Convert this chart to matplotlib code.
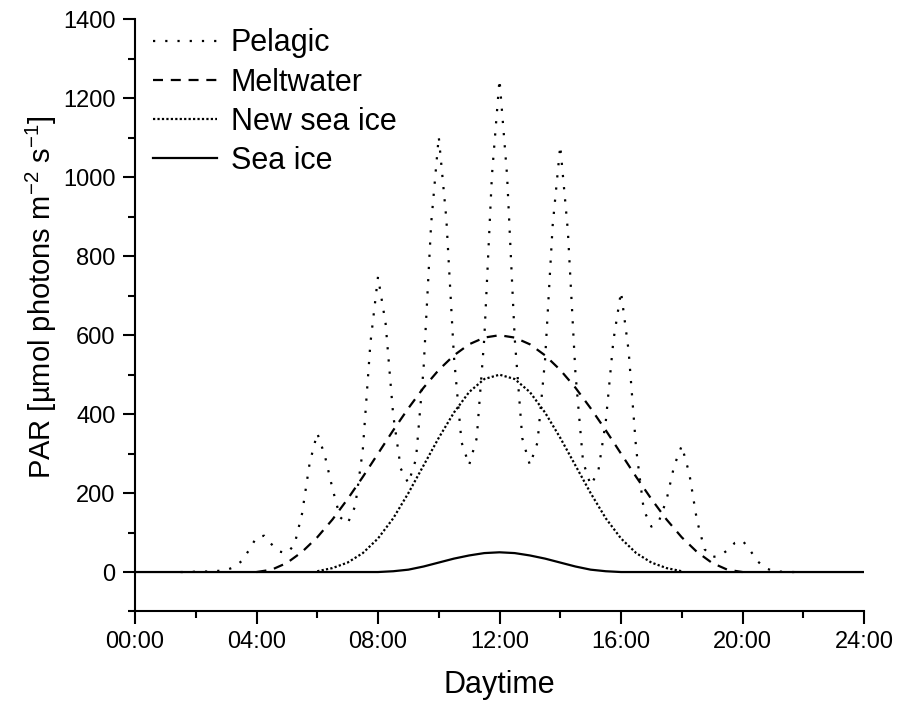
import numpy as np
import matplotlib
matplotlib.use("Agg")
import matplotlib.pyplot as plt
from matplotlib.ticker import MultipleLocator, FixedLocator

plt.rcParams['font.family'] = ['Liberation Sans', 'DejaVu Sans']
plt.rcParams['mathtext.fontset'] = 'custom'
plt.rcParams['mathtext.rm'] = 'Liberation Sans'

# hours of day for each series
pelagic_t = np.arange(1.5, 22.01, 0.25)
pelagic = [0, 0, 1, 1, 2, 3, 5, 12, 27, 55,
           88, 92, 70, 52, 48, 69, 148, 276, 352, 295,
           212, 139, 123, 167, 310, 580, 748, 630, 398, 262,
           225, 286, 515, 883, 1103, 895, 546, 329, 271, 339,
           593, 1004, 1248, 1004, 593, 339, 271, 328, 538, 878,
           1080, 865, 504, 280, 220, 254, 382, 587, 710, 561,
           311, 157, 115, 129, 183, 269, 320, 249, 131, 58,
           38, 41, 55, 74, 80, 55, 27, 10, 3, 1,
           0, 0, 0]

melt_t = np.arange(4, 20.01, 0.5)
meltwater = [0, 6, 23, 51, 88, 133, 185, 241, 300, 359, 415, 467, 512, 549, 577, 594,
             600, 594, 577, 549, 512, 467, 415, 359, 300, 241, 185, 133, 88, 51, 23, 6, 0]

new_t = np.arange(6, 18.01, 0.5)
new_ice = [2, 10, 24, 48, 85, 136, 200, 270, 340, 404, 456, 489,
           500, 489, 456, 404, 340, 270, 200, 136, 85, 48, 24, 10, 2]

ice_t = [0] + list(np.arange(8, 16.01, 0.5)) + [24]
sea_ice = [0, 0, 2, 6, 14, 24, 34, 42, 48, 50, 48, 42, 34, 24, 14, 6, 2, 0, 0]

hour_ticks = [0, 4, 8, 12, 16, 20, 24]
hour_labels = ["00:00", "04:00", "08:00", "12:00", "16:00", "20:00", "24:00"]

fig = plt.figure(figsize=(9, 7.08), dpi=100)
ax = fig.add_axes([0.15, 0.1363, 0.81, 0.8362])

ax.plot(pelagic_t, pelagic, color="black", lw=1.6, ls=(0, (1, 4.5)), label="Pelagic")
ax.plot(melt_t, meltwater, color="black", lw=1.6, ls=(0, (4.5, 3.5)), label="Meltwater")
ax.plot(new_t, new_ice, color="black", lw=1.6, ls=(0, (1, 1)), label="New sea ice")
ax.plot(ice_t, sea_ice, color="black", lw=1.6, ls="-", label="Sea ice")

ax.set_xlim(0, 24)
ax.set_ylim(-100, 1400)
ax.set_xticks(hour_ticks)
ax.set_xticklabels(hour_labels)
ax.xaxis.set_minor_locator(FixedLocator([2, 6, 10, 14, 18, 22]))
ax.yaxis.set_minor_locator(MultipleLocator(100))
ax.set_yticks(range(0, 1401, 200))

for s in ["top", "right"]:
    ax.spines[s].set_visible(False)
for s in ["left", "bottom"]:
    ax.spines[s].set_linewidth(1.5)
ax.tick_params(which="major", direction="out", length=9, width=1.5, labelsize=17, pad=5)
ax.tick_params(which="minor", direction="out", length=5, width=1.5)

ax.set_xlabel("Daytime", fontsize=22, labelpad=12)
ax.set_ylabel(r"PAR [µmol photons m$^{\mathrm{-2}}$ s$^{\mathrm{-1}}$]", fontsize=21)
ax.yaxis.set_label_coords(-0.104, 0.53)

ax.legend(loc="upper left", bbox_to_anchor=(0.02, 0.99), borderaxespad=0, borderpad=0.1,
          frameon=False, fontsize=22, handlelength=2.1, handletextpad=0.45, labelspacing=0.3)

fig.savefig("out.png", dpi=100)
